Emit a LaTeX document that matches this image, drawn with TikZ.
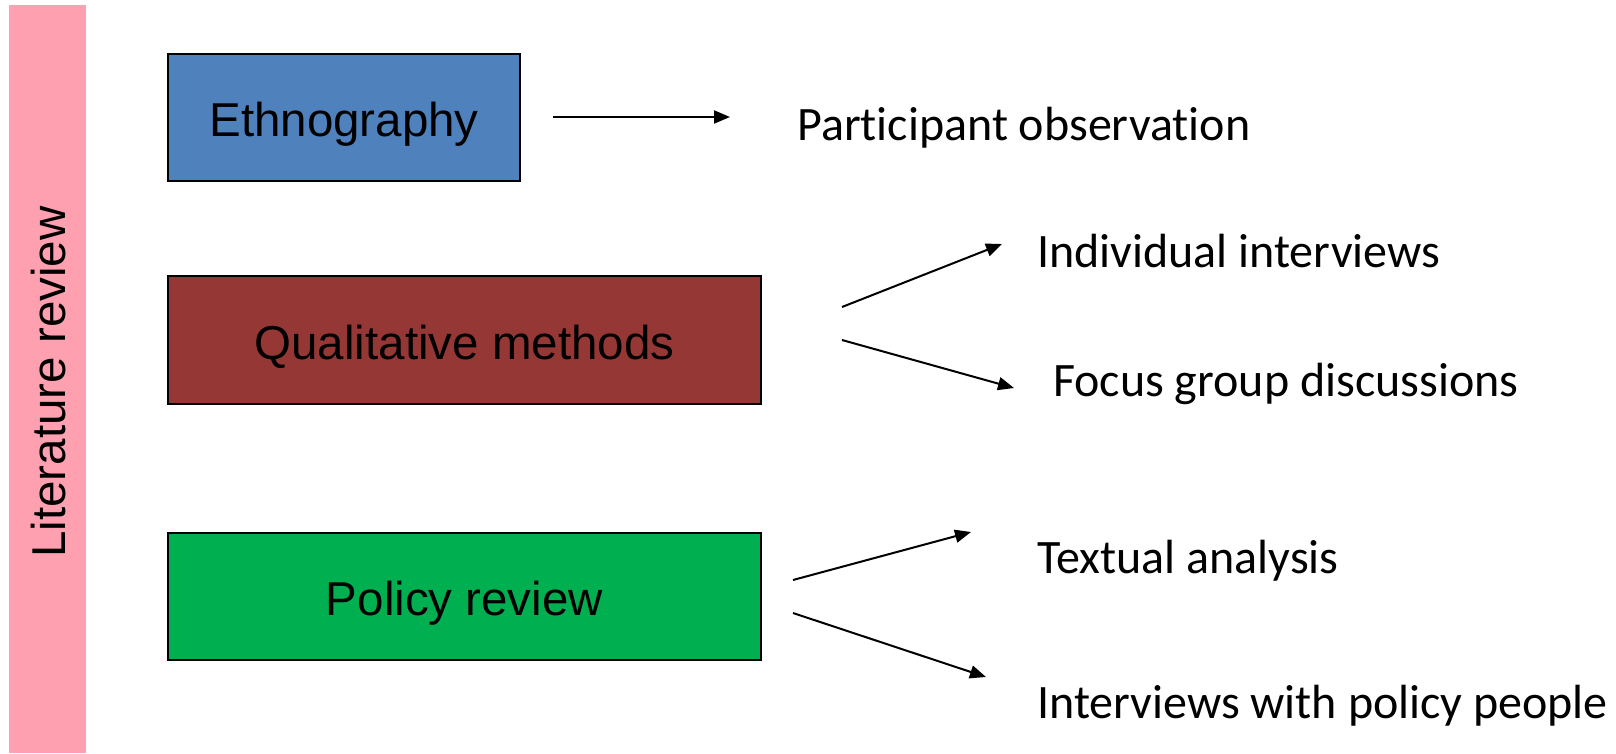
\documentclass[tikz,border=0pt]{standalone}
\usepackage{fontspec}
\setmainfont{Liberation Sans}
\newfontfamily\calib[Ligatures=NoCommon]{Carlito}
\usetikzlibrary{arrows.meta}
\definecolor{pinkbar}{HTML}{FFA0B1}
\definecolor{ethblue}{HTML}{4F81BD}
\definecolor{qualred}{HTML}{953735}
\definecolor{polgreen}{HTML}{00B050}
\tikzset{
  box/.style={draw=black, line width=2.5pt, inner sep=0pt, text height=38pt, text depth=0pt, font=\fontsize{47.5}{56}\selectfont},
  lbl/.style={anchor=base west, inner sep=0pt, font=\calib\fontsize{48}{56}\selectfont},
  conn/.style={line width=2pt, -{Triangle[length=16pt,width=13pt]}}
}
\begin{document}
\begin{tikzpicture}[x=1pt,y=-1pt]
\useasboundingbox (0,0) rectangle (1616,753);
\fill[pinkbar] (9,5) rectangle (86,753);
\node[rotate=90, font=\fontsize{47.5}{56}\selectfont, inner sep=0pt] (lit) at (49,382) {Literature review};
\node[box, fill=ethblue, minimum width=352pt, minimum height=127pt] (eth) at (344,117.5) {Ethnography};
\node[box, fill=qualred, minimum width=593pt, minimum height=128pt] (qual) at (464.5,340) {Qualitative methods};
\node[box, fill=polgreen, minimum width=593pt, minimum height=127pt] (pol) at (464.5,596.5) {Policy review};
\node[lbl] (po) at (797,140) {Participant observation};
\node[lbl] (ii) at (1037,267) {Individual interviews};
\node[lbl] (fg) at (1053,396) {Focus group discussions};
\node[lbl] (ta) at (1037,573) {Textual analysis};
\node[lbl] (ip) at (1037,718) {Interviews with policy people};
\coordinate (a1s) at (553,117); \coordinate (a1e) at (730,117);
\coordinate (a2s) at (842,307); \coordinate (a2e) at (1002,244);
\coordinate (a3s) at (842,340); \coordinate (a3e) at (1014,388);
\coordinate (a4s) at (793,580); \coordinate (a4e) at (971,532);
\coordinate (a5s) at (793,613); \coordinate (a5e) at (986,677);
\draw[conn] (a1s) -- (a1e);
\draw[conn] (a2s) -- (a2e);
\draw[conn] (a3s) -- (a3e);
\draw[conn] (a4s) -- (a4e);
\draw[conn] (a5s) -- (a5e);
\end{tikzpicture}
\end{document}
